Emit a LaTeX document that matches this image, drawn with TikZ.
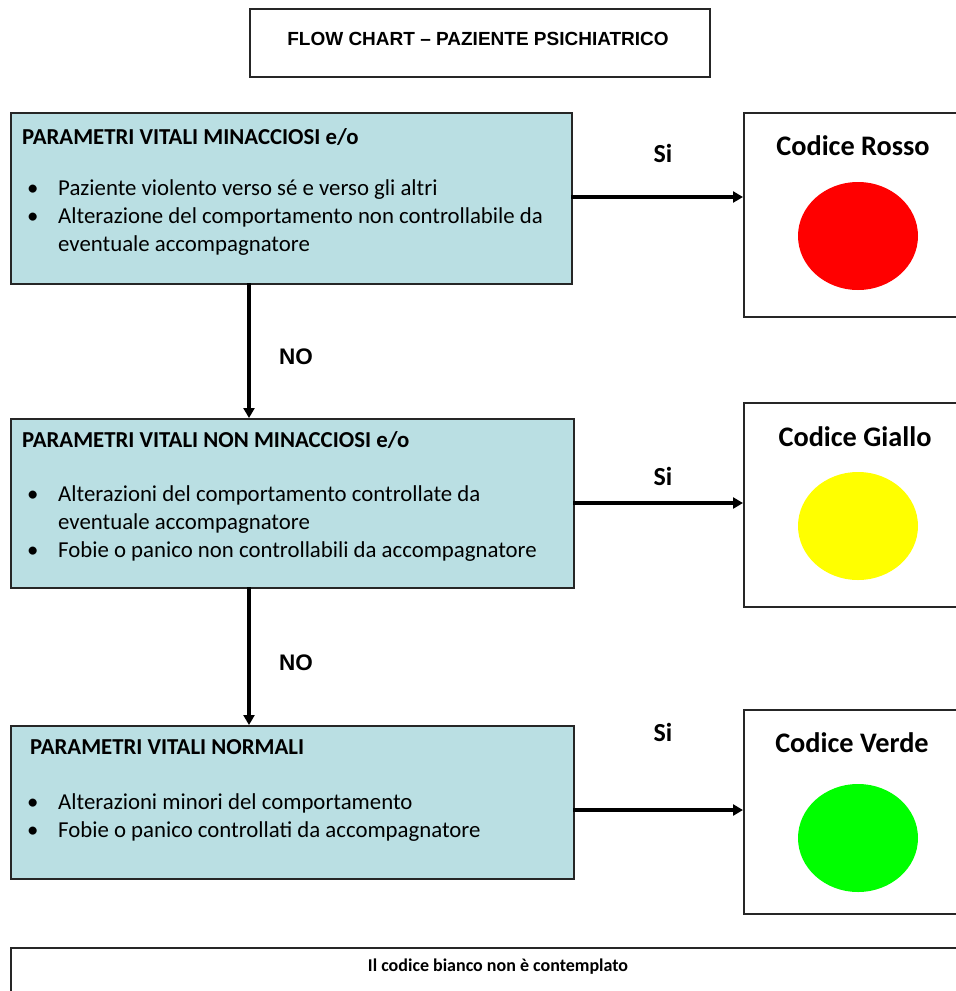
\documentclass[tikz,border=0pt]{standalone}
\usepackage{fontspec}
\setmainfont{Carlito}
\newfontfamily\arialfont{Liberation Sans}
\usetikzlibrary{arrows.meta}
\definecolor{boxblue}{RGB}{186,223,227}
\definecolor{codered}{RGB}{255,0,0}
\definecolor{codeyellow}{RGB}{255,255,0}
\definecolor{codegreen}{RGB}{0,255,0}
\tikzset{
  frame/.style={draw=black!85, line width=1.5pt, anchor=north west, inner sep=0pt},
  bluebox/.style={frame, fill=boxblue},
  conn/.style={line width=3.4pt, -{Triangle[length=10pt,width=11pt]}},
  head/.style={anchor=base west, inner sep=0pt, font=\fontsize{22.8}{26}\selectfont\bfseries},
  item/.style={anchor=base west, inner sep=0pt, font=\fontsize{22.8}{26}\selectfont},
  lbl/.style={inner sep=0pt, font=\fontsize{26}{30}\selectfont\bfseries},
  nolbl/.style={inner sep=0pt, font=\arialfont\fontsize{22.5}{26}\selectfont\bfseries},
  codetitle/.style={inner sep=0pt, font=\fontsize{28.3}{33}\selectfont\bfseries}
}
\begin{document}
\begin{tikzpicture}[x=1pt,y=-1pt]
\useasboundingbox (0,0) rectangle (956,991);
% title
\node[frame, minimum width=460pt, minimum height=68pt] (title) at (249,8) {};
\node[inner sep=0pt, font=\arialfont\fontsize{19}{22}\selectfont\bfseries] (titletext) at (478,39) {FLOW CHART – PAZIENTE PSICHIATRICO};
% blue boxes
\node[bluebox, minimum width=561pt, minimum height=171pt] (b1) at (10,112) {};
\node[bluebox, minimum width=563pt, minimum height=169pt] (b2) at (10,418) {};
\node[bluebox, minimum width=563pt, minimum height=153pt] (b3) at (10,725) {};
% box 1 text
\node[head] (h1) at (22,144) {PARAMETRI VITALI MINACCIOSI e/o};
\node[item] (b1d1) at (27,195) {•};
\node[item] (b1t1) at (58,195) {Paziente violento verso sé e verso gli altri};
\node[item] (b1d2) at (27,223) {•};
\node[item] (b1t2) at (58,223) {Alterazione del comportamento non controllabile da};
\node[item] (b1t3) at (58,251) {eventuale accompagnatore};
% box 2 text
\node[head] (h2) at (22,447) {PARAMETRI VITALI NON MINACCIOSI e/o};
\node[item] (b2d1) at (27,501) {•};
\node[item] (b2t1) at (58,501) {Alterazioni del comportamento controllate da};
\node[item] (b2t2) at (58,529) {eventuale accompagnatore};
\node[item] (b2d2) at (27,557) {•};
\node[item] (b2t3) at (58,557) {Fobie o panico non controllabili da accompagnatore};
% box 3 text
\node[head] (h3) at (30,754) {PARAMETRI VITALI NORMALI};
\node[item] (b3d1) at (27,809) {•};
\node[item] (b3t1) at (58,809) {Alterazioni minori del comportamento};
\node[item] (b3d2) at (27,837) {•};
\node[item] (b3t2) at (58,837) {Fobie o panico controllati da accompagnatore};
% right boxes
\node[frame, fill=white, minimum width=230pt, minimum height=204pt] (r1) at (743,112) {};
\node[frame, fill=white, minimum width=230pt, minimum height=204pt] (r2) at (743,402) {};
\node[frame, fill=white, minimum width=230pt, minimum height=204pt] (r3) at (743,709) {};
\node[codetitle] (c1) at (853,146) {Codice Rosso};
\node[codetitle] (c2) at (855,437) {Codice Giallo};
\node[codetitle] (c3) at (852,743) {Codice Verde};
\fill[codered] (858,236) ellipse [x radius=60pt, y radius=54pt];
\fill[codeyellow] (858,526) ellipse [x radius=60pt, y radius=54pt];
\fill[codegreen] (858,838) ellipse [x radius=60pt, y radius=54pt];
% coordinates for connectors
\coordinate (a1s) at (571,197);
\coordinate (a1e) at (743,197);
\coordinate (a2s) at (573,503);
\coordinate (a2e) at (743,503);
\coordinate (a3s) at (573,810);
\coordinate (a3e) at (743,810);
\coordinate (v1s) at (249,283);
\coordinate (v1e) at (249,418);
\coordinate (v2s) at (249,587);
\coordinate (v2e) at (249,725);
\draw[conn] (a1s) -- (a1e);
\draw[conn] (a2s) -- (a2e);
\draw[conn] (a3s) -- (a3e);
\draw[conn] (v1s) -- (v1e);
\draw[conn] (v2s) -- (v2e);
% labels
\node[lbl] (si1) at (663,153) {Si};
\node[lbl] (si2) at (663,476) {Si};
\node[lbl] (si3) at (663,732) {Si};
\node[nolbl] (no1) at (296,357) {NO};
\node[nolbl] (no2) at (296,663) {NO};
% bottom box
\node[frame, fill=white, minimum width=960pt, minimum height=60pt] (bottom) at (10,947) {};
\node[inner sep=0pt, font=\fontsize{18}{22}\selectfont\bfseries] (bottomtext) at (498,967) {Il codice bianco non è contemplato};
\end{tikzpicture}
\end{document}
